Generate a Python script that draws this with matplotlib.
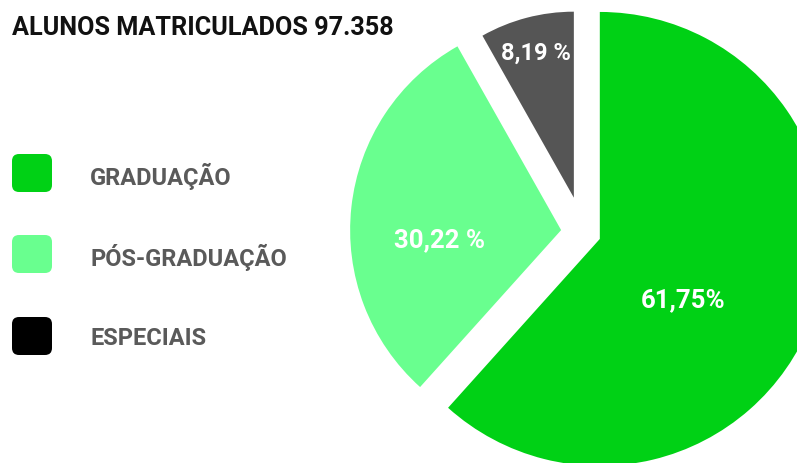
import matplotlib
matplotlib.use("Agg")
import matplotlib.pyplot as plt
from matplotlib.patches import FancyBboxPatch

# dados
categorias = ["GRADUAÇÃO", "PÓS-GRADUAÇÃO", "ESPECIAIS"]
percentuais = [61.75, 30.22, 8.19]
rotulos = ["61,75%", "30,22 %", "8,19 %"]
titulo = "ALUNOS MATRICULADOS 97.358"

cores_fatia = ["#00d115", "#69ff8f", "#555555"]
cores_legenda = ["#00d115", "#69ff8f", "#000000"]

plt.rcParams['font.family'] = ['Roboto', 'DejaVu Sans']

W, H = 797, 464
fig = plt.figure(figsize=(W / 100, H / 100), dpi=100)
ax = fig.add_axes([0, 0, 1, 1])

# pizza (unidades em pixels)
centro = (583, 230.5)
wedges, _ = ax.pie(percentuais, colors=cores_fatia, startangle=90,
                   counterclock=False, radius=227, center=centro,
                   explode=[18, 22, 36], frame=True,
                   wedgeprops=dict(linewidth=0))
raios = [227, 211, 186]
for w, r in zip(wedges, raios):
    w.set_radius(r)

# rotulos das fatias
pos_rotulos = [(683, 164), (440, 224), (536, 411)]
tam_rotulos = [18.5, 18.5, 17]
for (x, y), txt, fs in zip(pos_rotulos, rotulos, tam_rotulos):
    ax.text(x, y, txt, color="white", fontsize=fs, fontweight="bold",
            ha="center", va="center")

ax.set_xlim(0, W)
ax.set_ylim(0, H)
ax.set_aspect("equal")
ax.axis("off")

# titulo
ax.text(12, H - 28, titulo, fontsize=18.2, fontweight="bold",
        color="#111111", ha="left", va="center")

# legenda
y_leg = [H - 174, H - 255, H - 337]
for nome, cor, y in zip(categorias, cores_legenda, y_leg):
    ax.add_patch(FancyBboxPatch((12, y - 19), 40, 38,
                                boxstyle="round,pad=0,rounding_size=7",
                                facecolor=cor, edgecolor="none"))
    ax.text(90, y - 2, nome, fontsize=17, fontweight="bold", color="#5a5a5a",
            ha="left", va="center")

fig.savefig("out.png", dpi=100)
